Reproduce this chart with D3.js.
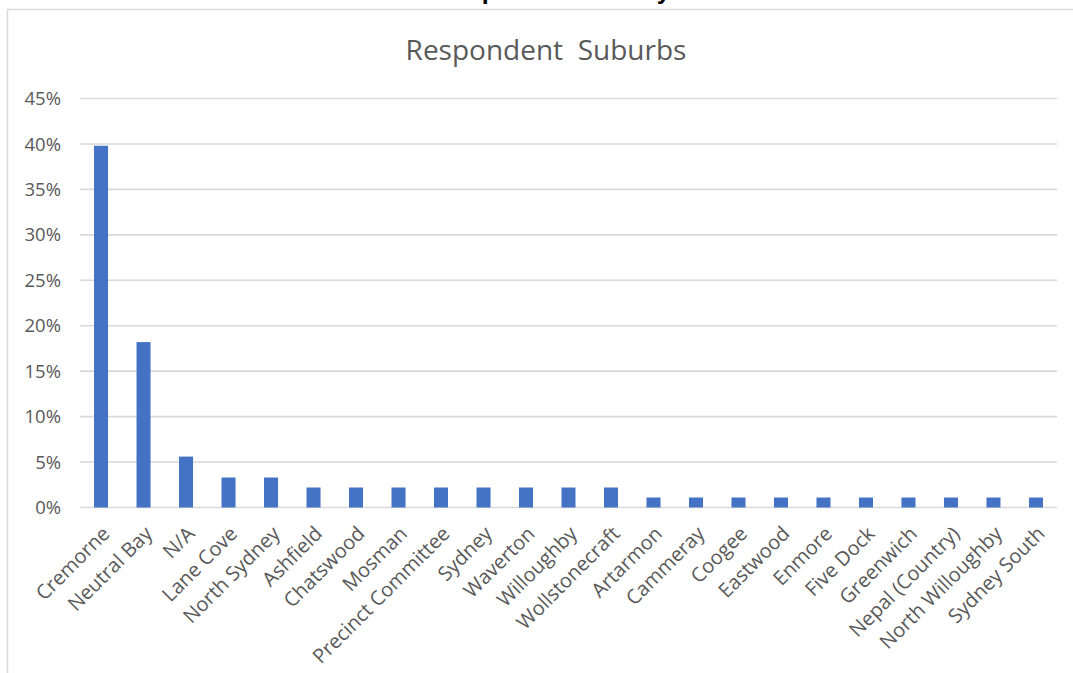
<!DOCTYPE html>
<html><head><meta charset="utf-8">
<script src="https://cdn.jsdelivr.net/npm/d3@7"></script>
<style>body{margin:0;background:#fff;overflow:hidden}svg{display:block}</style>
</head><body>
<svg id="c" width="1073" height="673"></svg>
<script>
const categories = ["Cremorne","Neutral Bay","N/A","Lane Cove","North Sydney","Ashfield","Chatswood","Mosman","Precinct Committee","Sydney","Waverton","Willoughby","Wollstonecraft","Artarmon","Cammeray","Coogee","Eastwood","Enmore","Five Dock","Greenwich","Nepal (Country)","North Willoughby","Sydney South"];
const values = [0.398,0.182,0.056,0.033,0.033,0.022,0.022,0.022,0.022,0.022,0.022,0.022,0.022,0.011,0.011,0.011,0.011,0.011,0.011,0.011,0.011,0.011,0.011];
const yTicks = [0,0.05,0.10,0.15,0.20,0.25,0.30,0.35,0.40,0.45];

const svg = d3.select("#c");
const font = "'Open Sans', 'Segoe UI', sans-serif";
// chart frame
svg.append("line").attr("x1",7.5).attr("x2",7.5).attr("y1",9).attr("y2",673).attr("stroke","#d9d9d9").attr("stroke-width",1.5);
svg.append("line").attr("x1",7).attr("x2",1073).attr("y1",9.5).attr("y2",9.5).attr("stroke","#d9d9d9").attr("stroke-width",1.5);
// heading above the chart, cut off by the top edge in the reference
svg.append("text").attr("x",436).attr("y",-1).attr("text-anchor","start").attr("font-family","'Liberation Sans', sans-serif").attr("font-weight","bold").attr("font-size",25).attr("fill","#000").text("Respondent Survey");

const x = d3.scaleBand().domain(categories).range([80,1057]).paddingInner(0.67).paddingOuter(0.33);
const y = d3.scaleLinear().domain([0,0.45]).range([507.5,98.5]);

const g = svg.append("g");
g.selectAll("line.grid").data(yTicks).join("line").attr("class","grid")
 .attr("x1",80).attr("x2",1057).attr("y1",d=>y(d)).attr("y2",d=>y(d))
 .attr("stroke","#d9d9d9").attr("stroke-width",1.6);

g.selectAll("text.yt").data(yTicks).join("text").attr("class","yt")
 .attr("x",61).attr("y",d=>y(d)).attr("dy","0.36em").attr("text-anchor","end")
 .attr("font-family",font).attr("font-size",18.5).attr("fill","#595959")
 .text(d=>d3.format(".0%")(d));

g.selectAll("rect.bar").data(values).join("rect").attr("class","bar")
 .attr("x",(d,i)=>x(categories[i])).attr("width",x.bandwidth())
 .attr("y",d=>y(d)).attr("height",d=>y(0)-y(d))
 .attr("fill","#4472C4");

g.selectAll("text.xl").data(categories).join("text").attr("class","xl")
 .attr("transform",d=>`translate(${x(d)+x.bandwidth()/2+5},${530}) rotate(-45)`)
 .attr("text-anchor","end").attr("dy","0.35em")
 .attr("font-family",font).attr("font-size",20).attr("fill","#595959")
 .text(d=>d);

svg.append("text").attr("x",546).attr("y",60).attr("text-anchor","middle")
 .attr("font-family",font).attr("font-size",28).attr("fill","#595959")
 .text("Respondent\u00a0 Suburbs");
</script>
</body></html>
